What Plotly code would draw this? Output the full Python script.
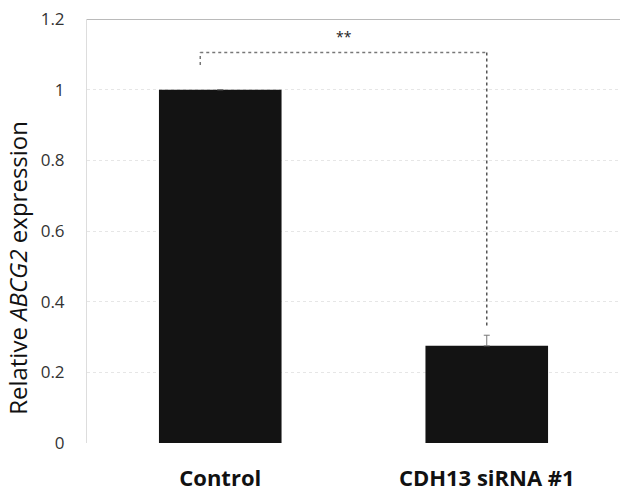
import plotly.graph_objects as go

categories = ["Control", "CDH13 siRNA #1"]
values = [1.0, 0.275]
errors = [0.0, 0.03]
y_ticks = [0, 0.2, 0.4, 0.6, 0.8, 1, 1.2]
y_tick_labels = ["0", "0.2", "0.4", "0.6", "0.8", "1", "1.2"]
sig_label = "**"

fig = go.Figure()
fig.add_trace(go.Bar(
    x=[0, 1], y=values,
    width=0.46,
    marker=dict(color="#131313", line=dict(width=0)),
    error_y=dict(type="data", array=errors, arrayminus=[0, 0], symmetric=False, visible=True,
                 color="#777777", thickness=1, width=3),
))

# significance bracket
bx0 = -0.075
bx1 = 1.0
btop = 1.105
fig.add_shape(type="line", x0=bx0, x1=bx0, y0=values[0] + 0.07, y1=btop,
              line=dict(color="#777777", width=1.5, dash="dot"))
fig.add_shape(type="line", x0=bx0, x1=bx1, y0=btop, y1=btop,
              line=dict(color="#777777", width=1.5, dash="dot"))
fig.add_shape(type="line", x0=bx1, x1=bx1, y0=btop, y1=values[1] + errors[1] + 0.025,
              line=dict(color="#555555", width=1.5, dash="dot"))
fig.add_annotation(x=(bx0 + bx1) / 2, y=btop + 0.045, text=sig_label, showarrow=False,
                   font=dict(size=14, color="#222222", family="Open Sans"))
# top line at 1.2
fig.add_shape(type="line", xref="paper", x0=0, x1=1, y0=1.2, y1=1.2,
              line=dict(color="#777777", width=1.2))

fig.add_annotation(xref="paper", yref="paper", x=-0.1295, y=0.413, textangle=-90,
                   xanchor="center", yanchor="middle",
                   text="Relative <i>ABCG2</i> expression", showarrow=False,
                   font=dict(size=24, color="#111111", family="Open Sans"))

fig.update_layout(
    width=622, height=492,
    margin=dict(l=87, r=2, t=19, b=49),
    paper_bgcolor="white", plot_bgcolor="white",
    showlegend=False,
    xaxis=dict(
        tickmode="array", tickvals=[0, 1], ticktext=categories,
        range=[-0.5, 1.5], showgrid=False, zeroline=False, showline=False,
        ticks="", ticklabelstandoff=20, automargin=False,
        tickfont=dict(size=22, color="#111111", family="Open Sans", weight="bold"),
    ),
    yaxis=dict(
        range=[0, 1.2], tickmode="array", tickvals=y_ticks, ticktext=y_tick_labels,
        showgrid=True, gridcolor="#e6e6e6", griddash="dot", gridwidth=1,
        zeroline=False, showline=True, linecolor="#dddddd", linewidth=1,
        ticks="", ticklabelstandoff=18, automargin=False, ticklabeloverflow="allow",
        tickfont=dict(size=17, color="#333333", family="Open Sans"),
    ),
)

# remove the page body's default 8px margin so the figure fills the window
fig.write_html("out.html", config={"displayModeBar": False},
               post_script="document.body.style.margin='0';")
